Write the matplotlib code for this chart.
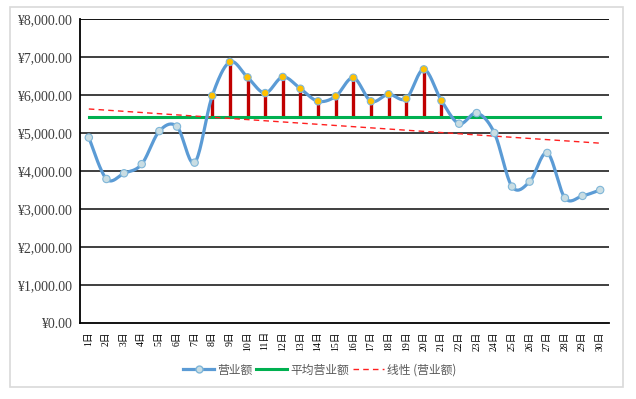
import numpy as np
import matplotlib.pyplot as plt
from matplotlib.lines import Line2D
from matplotlib.patches import Rectangle

plt.rcParams['font.family'] = ['Noto Sans CJK SC', 'DejaVu Sans']

# 数据
dias = list(range(1, 31))
etiquetas = ['{}日'.format(d) for d in dias]
ventas = [4880, 3790, 3940, 4180, 5050, 5170, 4220, 5980, 6870, 6465,
          6050, 6475, 6165, 5835, 5965, 6455, 5835, 6020, 5905, 6675,
          5850, 5245, 5525, 5000, 3590, 3720, 4475, 3290, 3345, 3500]
promedio = 5413
dias_destacados = [8, 9, 10, 11, 12, 13, 14, 15, 16, 17, 18, 19, 20, 21]


def suavizar(x, y, n=20):
    # curva suavizada tipo Excel (Catmull-Rom)
    x = np.asarray(x, float)
    y = np.asarray(y, float)
    px = np.concatenate(([x[0]], x, [x[-1]]))
    py = np.concatenate(([y[0]], y, [y[-1]]))
    xs, ys = [], []
    t = np.linspace(0, 1, n, endpoint=False)
    for i in range(1, len(px) - 2):
        p0, p1, p2, p3 = py[i-1], py[i], py[i+1], py[i+2]
        q0, q1, q2, q3 = px[i-1], px[i], px[i+1], px[i+2]
        c1y, c2y = p1 + (p2 - p0) / 6, p2 - (p3 - p1) / 6
        c1x, c2x = q1 + (q2 - q0) / 6, q2 - (q3 - q1) / 6
        b = [(1-t)**3, 3*(1-t)**2*t, 3*(1-t)*t**2, t**3]
        xs.append(b[0]*q1 + b[1]*c1x + b[2]*c2x + b[3]*q2)
        ys.append(b[0]*p1 + b[1]*c1y + b[2]*c2y + b[3]*p2)
    xs.append([x[-1]])
    ys.append([y[-1]])
    return np.concatenate(xs), np.concatenate(ys)


fig = plt.figure(figsize=(6.36, 3.99), dpi=100)
fig.patches.append(Rectangle((10/636, 1-387/399), 613/636, 380/399,
                             transform=fig.transFigure, fill=False,
                             edgecolor='#d9d9d9', linewidth=1.2))
ax = fig.add_axes([80/636, 1-323/399, 529/636, 304/399])

x = np.array(dias)
y = np.array(ventas)

for v in range(1000, 8001, 1000):
    ax.axhline(v, color='#303030' if v < 8000 else 'black', linewidth=1.3, zorder=1)

# linea de tendencia
a, b = np.polyfit(x, y, 1)
ax.plot([x[0], x[-1]], [a*x[0]+b, a*x[-1]+b], color='#ff2020', linestyle=(0, (4, 3)),
        linewidth=1.0, zorder=3)

# barras rojas
for d in dias_destacados:
    ax.vlines(d, promedio, ventas[d-1], color='#c00000', linewidth=2.4, zorder=2)

ax.plot([x[0], x[-1]], [promedio, promedio], color='#00b050', linewidth=2.2, zorder=2)

xs, ys = suavizar(x, y)
ax.plot(xs, ys, color='#5b9bd5', linewidth=2.3, zorder=4, solid_capstyle='round')
colores = ['#ffc000' if d in dias_destacados else '#c9dde3' for d in dias]
ax.scatter(x, y, s=28, c=colores, edgecolors='#7fb6d8', linewidths=0.8, zorder=5)

ax.set_xlim(0.5, 30.5)
ax.set_ylim(0, 8000)
ax.set_yticks(range(0, 8001, 1000))
ax.set_yticklabels(['\u00a5{:,.2f}'.format(v) for v in range(0, 8001, 1000)],
                   family=['Liberation Serif', 'Noto Sans CJK SC'], fontsize=10, color='#404040')
ax.set_xticks(x)
ax.set_xticklabels(etiquetas, rotation=90, fontsize=7,
                   family=['Liberation Serif', 'Noto Sans CJK SC'])
ax.tick_params(length=0, pad=6)
ax.tick_params(axis='x', pad=6)
for s in ('top', 'right'):
    ax.spines[s].set_visible(False)
ax.spines['left'].set_linewidth(1.3)
ax.spines['bottom'].set_linewidth(1.3)

handles = [Line2D([], [], color='#5b9bd5', linewidth=2.3, marker='o', markersize=5,
                  markerfacecolor='#c9dde3', markeredgecolor='#7fb6d8'),
           Line2D([], [], color='#00b050', linewidth=2.2),
           Line2D([], [], color='#ff2020', linewidth=1.0, linestyle=(0, (4, 3)))]
fig.legend(handles, ['营业额', '平均营业额', '线性 (营业额)'], loc='center',
           bbox_to_anchor=(320/636, 1-370/399), ncol=3, frameon=False,
           fontsize=8.5, labelcolor='#595959', handlelength=2.6,
           handletextpad=0.3, columnspacing=0.3)

fig.savefig('out.png', dpi=100)
